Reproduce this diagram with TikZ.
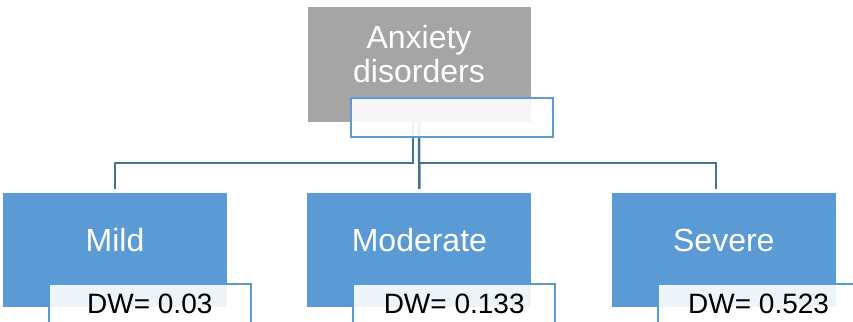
\documentclass[tikz,border=0pt]{standalone}
\usepackage{fontspec}
\setmainfont{Liberation Sans}
\usepackage{xcolor}
\usepackage{tikz}
\usetikzlibrary{positioning,calc}
\definecolor{topgray}{HTML}{A5A5A5}
\definecolor{levelblue}{HTML}{5B9BD5}
\definecolor{linkblue}{HTML}{41719C}
\tikzset{
  topbox/.style={fill=topgray,text=white,align=center,inner sep=0pt,
    minimum width=223pt,minimum height=115pt,font=\fontsize{32pt}{34pt}\selectfont},
  levelbox/.style={fill=levelblue,text=white,inner sep=0pt,
    minimum width=224pt,minimum height=114pt,text height=23pt,text depth=20pt,
    font=\fontsize{32pt}{36pt}\selectfont},
  dwbox/.style={draw=levelblue,line width=2pt,fill=white,fill opacity=0.9,text opacity=1,
    text=black,inner sep=0pt,minimum width=202pt,minimum height=39pt,
    font=\fontsize{28pt}{30pt}\selectfont},
  treelink/.style={draw=linkblue,line width=2.5pt}
}

\begin{document}
\begin{tikzpicture}[x=1pt,y=1pt,node distance=80pt]
  \useasboundingbox (0,0) rectangle (853,321);
  \clip (0,0) rectangle (853,321);
  \node[topbox,text depth=22pt] (anx) at (419,256.5) {Anxiety\\disorders};
  \node[levelbox] (mild) at (115,71) {Mild};
  \node[levelbox,right=of mild] (moderate) {Moderate};
  \node[levelbox,right=of moderate] (severe) {Severe};
  \draw[treelink] ([xshift=-6pt]anx.south) -- ++(0,-41) -| ([yshift=4pt]mild.north);
  \draw[treelink] (anx.south) -- ([yshift=4pt]moderate.north);
  \draw[treelink] ([yshift=-41pt]anx.south) -| ([xshift=-8pt,yshift=4pt]severe.north);
  \node[dwbox,anchor=north west] (anxdw) at ([shift={(43pt,25pt)}]anx.south west) {};
  \node[dwbox,anchor=north west] (milddw) at ([shift={(45pt,24pt)}]mild.south west) {DW= 0.03};
  \node[dwbox,anchor=north west] (moderatedw) at ([shift={(45pt,24pt)}]moderate.south west) {DW= 0.133};
  \node[dwbox,anchor=north west] (severedw) at ([shift={(45pt,24pt)}]severe.south west) {DW= 0.523};
\end{tikzpicture}
\end{document}
